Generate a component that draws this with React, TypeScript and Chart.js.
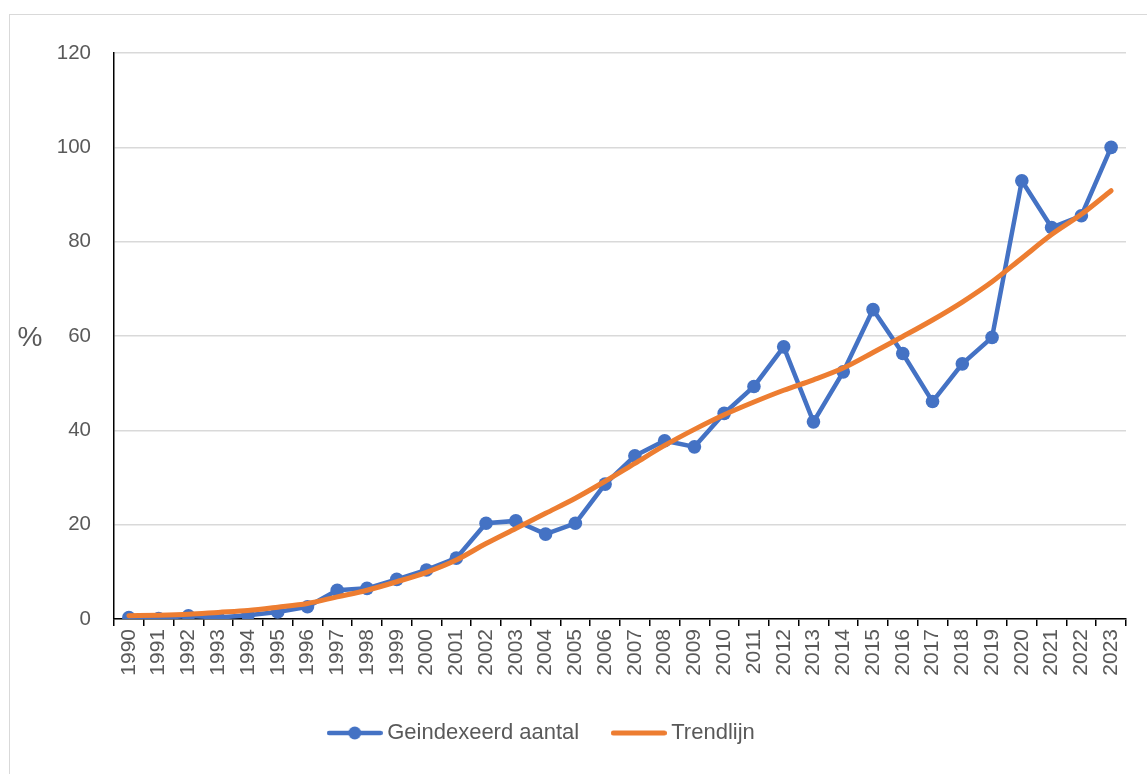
import { useEffect, useRef } from "react";
import { Chart, registerables } from "chart.js";

Chart.register(...registerables);

const years = [
  "1990", "1991", "1992", "1993", "1994", "1995", "1996", "1997", "1998", "1999",
  "2000", "2001", "2002", "2003", "2004", "2005", "2006", "2007", "2008", "2009",
  "2010", "2011", "2012", "2013", "2014", "2015", "2016", "2017", "2018", "2019",
  "2020", "2021", "2022", "2023",
];

const indexedCount = [
  0.3, 0.1, 0.7, 0.3, 0.8, 1.5, 2.6, 6.1, 6.5, 8.4,
  10.4, 12.9, 20.3, 20.8, 18.0, 20.3, 28.6, 34.6, 37.8, 36.5,
  43.6, 49.3, 57.7, 41.8, 52.4, 65.6, 56.3, 46.1, 54.1, 59.7,
  92.9, 83.0, 85.5, 100,
];

const trendLine = [
  0.7, 0.8, 1.0, 1.4, 1.8, 2.5, 3.3, 4.7, 6.1, 7.9,
  9.9, 12.5, 16.0, 19.2, 22.4, 25.6, 29.2, 33.0, 36.8, 40.2,
  43.3, 46.0, 48.5, 50.7, 53.2, 56.5, 59.9, 63.4, 67.2, 71.5,
  76.5, 81.5, 85.8, 90.8,
];

const seriesNames = ["Geindexeerd aantal", "Trendlijn"];
const yAxisTitle = "%";
const yMin = 0;
const yMax = 120;
const yStep = 20;

const FONT = '"Liberation Sans", Arial, sans-serif';
const TEXT = "#595959";
const BLUE = "#4472C4";
const ORANGE = "#ED7D31";
const LEGEND_FONT = 22;
const LEGEND_PAD = 38;
const LEGEND_DX = -24;
const LEGEND_CENTER_Y = 718;
const BELOW_AREA = 155; // canvas height minus chart-area bottom

function makeLegendImage(color: string, lineWidth: number, withDot: boolean) {
  const c = document.createElement("canvas");
  c.width = 56;
  c.height = 16;
  const g = c.getContext("2d")!;
  g.strokeStyle = color;
  g.lineWidth = lineWidth;
  g.lineCap = "round";
  g.beginPath();
  g.moveTo(lineWidth / 2, 8);
  g.lineTo(56 - lineWidth / 2, 8);
  g.stroke();
  if (withDot) {
    g.fillStyle = color;
    g.beginPath();
    g.arc(28, 8, 6.5, 0, Math.PI * 2);
    g.fill();
  }
  return c;
}

const percentTitle = {
  id: "percentTitle",
  afterDraw(chart: any) {
    const ctx = chart.ctx;
    const area = chart.chartArea;
    ctx.save();
    ctx.font = `28px ${FONT}`;
    ctx.fillStyle = TEXT;
    ctx.textAlign = "center";
    ctx.textBaseline = "middle";
    ctx.fillText(yAxisTitle, 20, (area.top + area.bottom) / 2 + 2);
    ctx.restore();
  },
};

const legendShift = {
  id: "legendShift",
  afterLayout(chart: any) {
    const lg = chart.legend;
    if (!lg) return;
    lg.left += LEGEND_DX;
    lg.right += LEGEND_DX;
    const dy = LEGEND_CENTER_Y - (lg.top + LEGEND_PAD + LEGEND_FONT / 2);
    lg.top += dy;
    lg.bottom += dy;
  },
};

export default function App() {
  const ref = useRef<HTMLCanvasElement | null>(null);

  useEffect(() => {
    if (!ref.current) return;
    const blueImg = makeLegendImage(BLUE, 4.5, true);
    const orangeImg = makeLegendImage(ORANGE, 5, false);
    const chart = new Chart(ref.current, {
      type: "line",
      data: {
        labels: years,
        datasets: [
          {
            label: seriesNames[0],
            data: indexedCount,
            borderColor: BLUE,
            backgroundColor: BLUE,
            borderWidth: 4.5,
            pointRadius: 6.8,
            pointBorderWidth: 0,
            pointBackgroundColor: BLUE,
            tension: 0,
            order: 2,
          },
          {
            label: seriesNames[1],
            data: trendLine,
            borderColor: ORANGE,
            backgroundColor: ORANGE,
            borderWidth: 5,
            pointRadius: 0,
            tension: 0.4,
            cubicInterpolationMode: "monotone",
            borderCapStyle: "round",
            order: 1,
          },
        ],
      },
      options: {
        animation: false,
        responsive: true,
        maintainAspectRatio: false,
        layout: { padding: { left: 0, top: 38, right: 21, bottom: 0 } },
        plugins: {
          tooltip: { enabled: false },
          legend: {
            position: "bottom",
            labels: {
              usePointStyle: true,
              pointStyleWidth: 43,
              padding: LEGEND_PAD,
              color: TEXT,
              font: { family: FONT, size: LEGEND_FONT },
              sort: (a: any, b: any) => a.datasetIndex - b.datasetIndex,
              generateLabels: (c: any) => {
                const items = (Chart as any).defaults.plugins.legend.labels.generateLabels(c);
                items.forEach((it: any) => {
                  it.pointStyle = it.datasetIndex === 0 ? blueImg : orangeImg;
                });
                return items;
              },
            },
          },
        },
        scales: {
          x: {
            offset: true,
            grid: {
              offset: true,
              drawOnChartArea: false,
              drawTicks: true,
              tickLength: 7,
              color: "#000",
              lineWidth: 1.5,
            },
            border: { display: true, color: "#000", width: 1.5 },
            ticks: {
              autoSkip: false,
              minRotation: 90,
              maxRotation: 90,
              padding: 3,
              color: TEXT,
              font: { family: FONT, size: 21 },
            },
            afterFit: (scale: any) => {
              const lg = scale.chart.legend;
              scale.height = BELOW_AREA - (lg ? lg.height : 0);
            },
          },
          y: {
            min: yMin,
            max: yMax,
            ticks: {
              stepSize: yStep,
              padding: 23,
              color: TEXT,
              font: { family: FONT, size: 20.5 },
            },
            grid: {
              drawTicks: false,
              color: "#d9d9d9",
              lineWidth: 1.5,
            },
            border: { display: true, color: "#000", width: 1.5 },
            afterFit: (scale: any) => {
              scale.width = 104;
            },
          },
        },
      },
      plugins: [percentTitle, legendShift],
    });
    return () => chart.destroy();
  }, []);

  return (
    <div
      style={{
        position: "fixed",
        left: 9,
        top: 14,
        width: 1200,
        height: 800,
        borderLeft: "1px solid #d9d9d9",
        borderTop: "1px solid #d9d9d9",
        overflow: "hidden",
        background: "#fff",
      }}
    >
      <div style={{ position: "relative", width: 1137, height: 759 }}>
        <canvas ref={ref} />
      </div>
    </div>
  );
}
